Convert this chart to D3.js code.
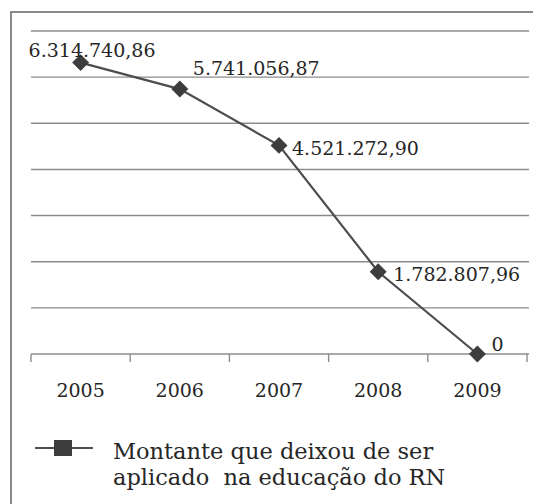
<!DOCTYPE html>
<html>
<head>
<meta charset="utf-8">
<script src="https://cdn.jsdelivr.net/npm/d3@7"></script>
<style>
  body { margin: 0; background: #fff; }
  svg text { font-family: "DejaVu Serif", serif; fill: #262626; }
</style>
</head>
<body>
<svg width="533" height="504"></svg>
<script>
// data
var years = ["2005", "2006", "2007", "2008", "2009"];
var values = [6314740.86, 5741056.87, 4521272.90, 1782807.96, 0];
var valueLabels = ["6.314.740,86", "5.741.056,87", "4.521.272,90", "1.782.807,96", "0"];
var seriesName = ["Montante que deixou de ser", "aplicado  na educação do RN"];
var yTicks = [1000000, 2000000, 3000000, 4000000, 5000000, 6000000, 7000000];

// label placement relative to the marker (dx, dy)
var labelOffsets = [[-52, -6], [13, -14], [13, 10], [15, 9], [14, -3]];

var svg = d3.select("svg");

// outer frame (cut off on the right and bottom)
svg.append("rect")
  .attr("x", 11).attr("y", 12)
  .attr("width", 540).attr("height", 510)
  .attr("fill", "none")
  .attr("stroke", "#8a8a8a")
  .attr("stroke-width", 2);

var xScale = d3.scaleBand().domain(years).range([31, 527]);
var yScale = d3.scaleLinear().domain([0, 7000000]).range([354, 31]);

// gridlines
svg.append("g")
  .selectAll("line")
  .data(yTicks)
  .enter()
  .append("line")
  .attr("x1", 31)
  .attr("x2", 529)
  .attr("y1", (d) => yScale(d))
  .attr("y2", (d) => yScale(d))
  .attr("stroke", "#8c8c8c")
  .attr("stroke-width", 1.4);

// x axis: baseline with ticks between categories
var xAxis = svg.append("g").attr("transform", `translate(0,${yScale(0)})`);
xAxis.append("line")
  .attr("x1", 31).attr("x2", 529)
  .attr("stroke", "#8c8c8c").attr("stroke-width", 1.4);

var bounds = years.map((d) => xScale(d)).concat([xScale.range()[1]]);
xAxis.selectAll("line.tick")
  .data(bounds)
  .enter()
  .append("line")
  .attr("class", "tick")
  .attr("x1", (d) => d).attr("x2", (d) => d)
  .attr("y1", 0).attr("y2", 8)
  .attr("stroke", "#8c8c8c").attr("stroke-width", 1.4);

xAxis.selectAll("text")
  .data(years)
  .enter()
  .append("text")
  .attr("x", (d) => xScale(d) + xScale.bandwidth() / 2)
  .attr("y", 43)
  .attr("text-anchor", "middle")
  .style("font-size", "19px")
  .text((d) => d);

// series line
var pts = years.map((y, i) => ({ year: y, value: values[i], label: valueLabels[i], off: labelOffsets[i] }));
var cx = (d) => xScale(d.year) + xScale.bandwidth() / 2;

svg.append("path")
  .datum(pts)
  .attr("d", d3.line().x(cx).y((d) => yScale(d.value)))
  .attr("fill", "none")
  .attr("stroke", "#4d4d4d")
  .attr("stroke-width", 2.2);

var diamond = d3.symbol().type(d3.symbolSquare).size(144);
svg.append("g")
  .selectAll("path")
  .data(pts)
  .enter()
  .append("path")
  .attr("d", diamond)
  .attr("transform", (d) => `translate(${cx(d)},${yScale(d.value)}) rotate(45)`)
  .attr("fill", "#3d3d3d");

// value labels
svg.append("g")
  .selectAll("text")
  .data(pts)
  .enter()
  .append("text")
  .attr("x", (d) => cx(d) + d.off[0])
  .attr("y", (d) => yScale(d.value) + d.off[1])
  .style("font-size", "19px")
  .text((d) => d.label);

// legend
var legend = svg.append("g");
legend.append("line")
  .attr("x1", 35).attr("x2", 93)
  .attr("y1", 448).attr("y2", 448)
  .attr("stroke", "#4d4d4d").attr("stroke-width", 2.2);
legend.append("rect")
  .attr("x", 54).attr("y", 440)
  .attr("width", 18).attr("height", 16)
  .attr("fill", "#3d3d3d");
legend.selectAll("text")
  .data(seriesName)
  .enter()
  .append("text")
  .attr("x", 113)
  .attr("y", (d, i) => 459 + i * 26)
  .style("font-size", "22.5px")
  .style("white-space", "pre")
  .text((d) => d);
</script>
</body>
</html>
